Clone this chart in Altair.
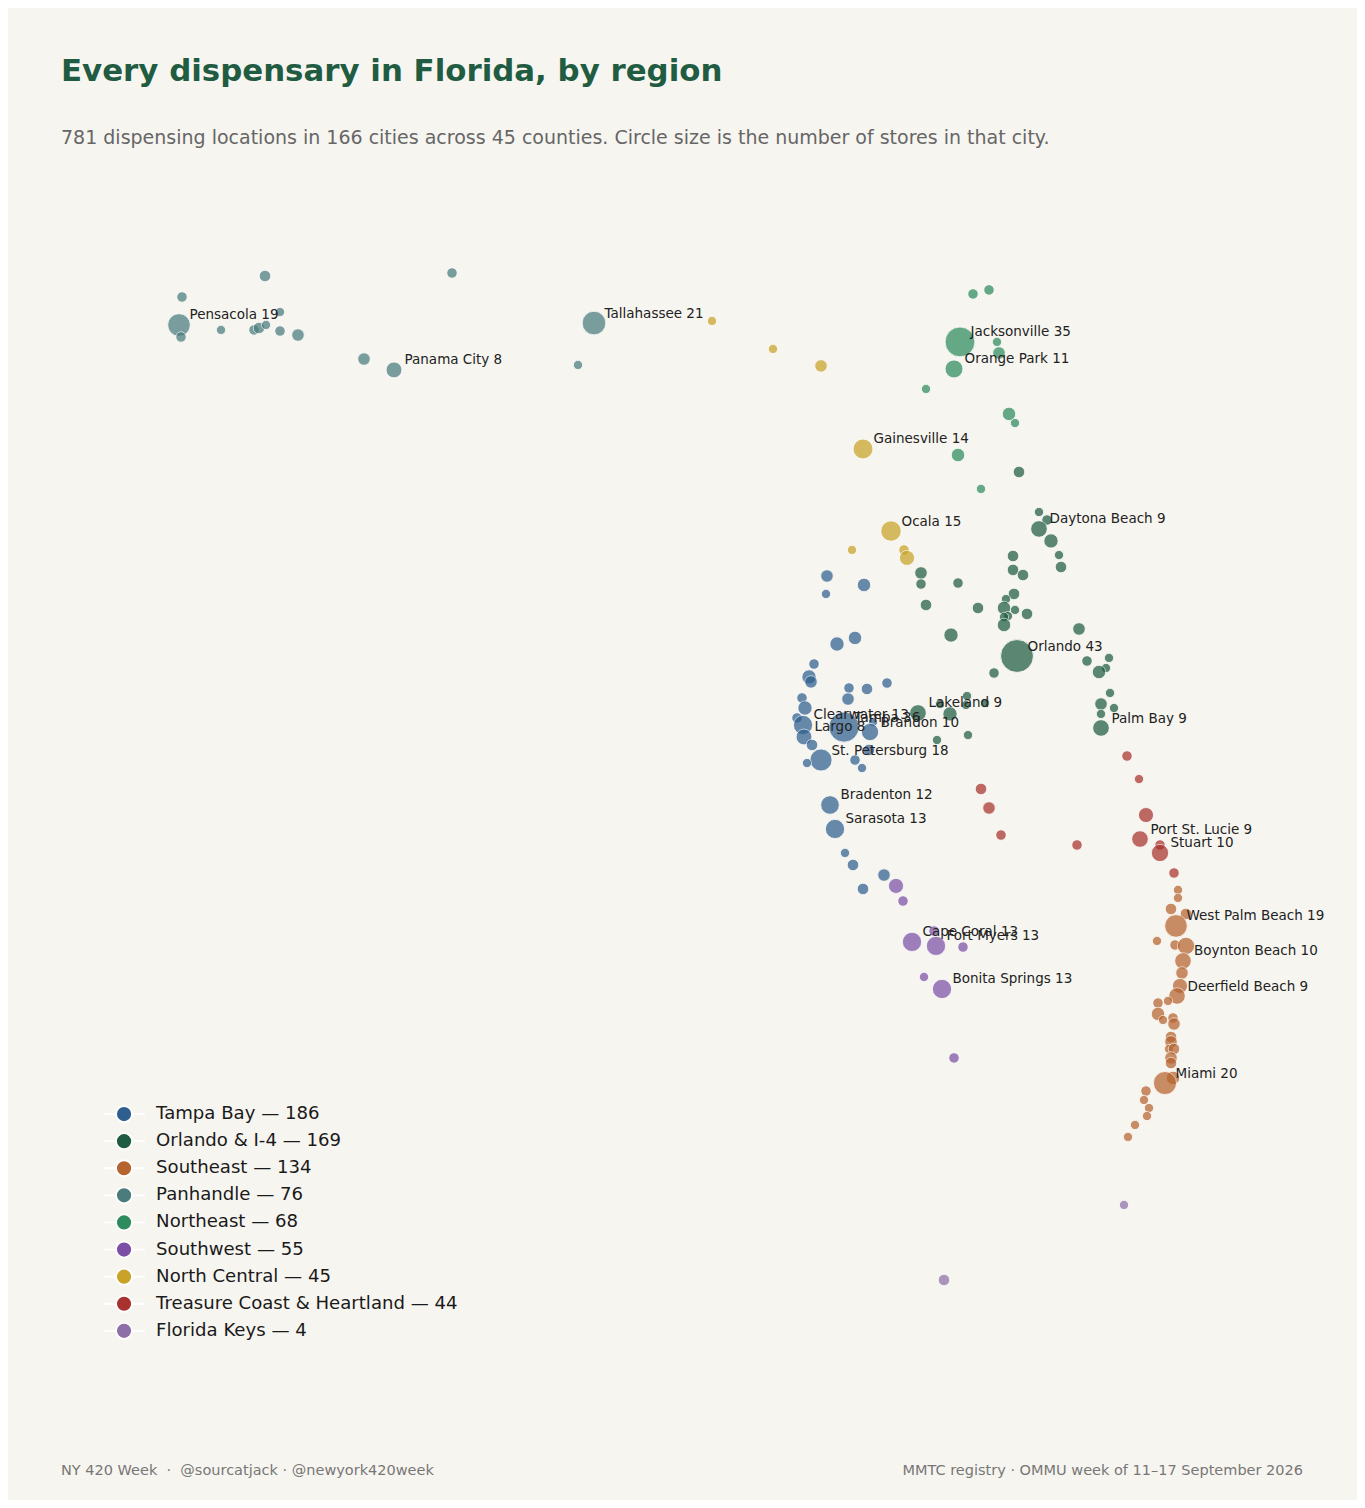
import altair as alt
import pandas as pd

# lon / lat / stores per city
panhandle_lon = [-87.200, -87.186, -87.179, -86.598, -85.289, -86.906, -86.675, -86.640, -86.591, -86.493, -86.493, -86.367, -85.905, -85.695, -84.407, -84.295]
panhandle_lat = [30.439, 30.364, 30.614, 30.745, 30.764, 30.408, 30.408, 30.420, 30.439, 30.520, 30.401, 30.376, 30.226, 30.158, 30.189, 30.451]
panhandle_stores = [19, 2, 2, 3, 2, 1, 2, 3, 1, 1, 2, 4, 4, 8, 1, 21]

north_central_lon = [-83.469, -83.042, -82.706, -82.412, -82.216, -82.489, -82.125, -82.104]
north_central_lat = [30.464, 30.289, 30.183, 29.664, 29.151, 29.033, 29.033, 28.983]
north_central_stores = [1, 1, 4, 14, 15, 1, 2, 7]

northeast_lon = [-81.642, -81.530, -81.733, -81.474, -81.460, -81.775, -81.971, -81.390, -81.348, -81.747, -81.586]
northeast_lat = [30.633, 30.658, 30.333, 30.333, 30.264, 30.164, 30.039, 29.883, 29.826, 29.626, 29.414]
northeast_stores = [2, 2, 35, 1, 4, 11, 1, 5, 1, 5, 1]

orlando_lon = [-81.320, -81.180, -81.124, -81.180, -81.096, -81.040, -81.026, -81.362, -81.362, -81.292, -81.355,
               -81.411, -81.425, -81.348, -81.264, -81.397, -81.425, -81.425, -81.607, -80.900, -82.006, -82.006,
               -81.747, -81.971, -81.796, -81.334, -81.495, -80.844, -80.690, -80.711, -80.760, -80.683, -80.746,
               -80.655, -80.746, -80.746, -81.684, -81.873, -81.691, -81.558, -82.027, -81.803, -81.894, -81.677]
orlando_lat = [29.520, 29.270, 29.220, 29.164, 29.089, 29.001, 28.926, 28.995, 28.908, 28.876, 28.758,
               28.726, 28.670, 28.658, 28.633, 28.620, 28.614, 28.564, 28.670, 28.539, 28.889, 28.820,
               28.826, 28.689, 28.501, 28.370, 28.264, 28.339, 28.358, 28.295, 28.270, 28.139, 28.070,
               28.045, 28.008, 27.920, 28.120, 28.070, 28.064, 28.076, 28.014, 28.008, 27.845, 27.876]
orlando_stores = [3, 1, 2, 9, 6, 1, 3, 3, 3, 3, 3,
                  1, 5, 1, 3, 1, 1, 5, 3, 4, 4, 2,
                  2, 3, 6, 43, 2, 2, 1, 1, 5, 1, 4,
                  1, 1, 9, 1, 1, 1, 1, 9, 6, 1, 1]

tampa_lon = [-82.664, -82.405, -82.671, -82.468, -82.594, -82.755, -82.790, -82.776, -82.510, -82.384, -82.244,
             -82.517, -82.839, -82.818, -82.874, -82.832, -82.545, -82.342, -82.363, -82.825, -82.769, -82.706,
             -82.804, -82.468, -82.419, -82.370, -82.643, -82.608, -82.538, -82.482, -82.265, -82.412]
tampa_lat = [28.870, 28.814, 28.758, 28.483, 28.445, 28.320, 28.239, 28.208, 28.170, 28.164, 28.201,
             28.101, 28.108, 28.045, 27.983, 27.939, 27.926, 27.958, 27.895, 27.864, 27.814, 27.720,
             27.701, 27.720, 27.670, 27.783, 27.439, 27.289, 27.139, 27.064, 27.001, 26.914]
tampa_stores = [4, 5, 1, 5, 6, 2, 6, 4, 2, 3, 2,
                4, 2, 6, 2, 13, 36, 1, 10, 8, 3, 18,
                1, 2, 1, 3, 12, 13, 1, 3, 4, 3]

southwest_lon = [-82.181, -82.132, -81.915, -82.069, -81.901, -81.712, -81.985, -81.859, -81.775]
southwest_lat = [26.933, 26.839, 26.651, 26.583, 26.558, 26.551, 26.364, 26.289, 25.858]
southwest_stores = [7, 2, 2, 13, 13, 2, 1, 13, 2]

keys_lon = [-80.585, -81.845]
keys_lat = [24.939, 24.470]
keys_stores = [1, 3]

treasure_lon = [-80.564, -80.480, -80.431, -80.473, -80.333, -80.333, -80.914, -80.235, -81.586, -81.530, -81.446]
treasure_lat = [27.745, 27.601, 27.376, 27.226, 27.189, 27.139, 27.189, 27.014, 27.539, 27.420, 27.251]
treasure_stores = [2, 1, 7, 9, 2, 10, 2, 2, 3, 4, 2]

southeast_lon = [-80.207, -80.207, -80.256, -80.151, -80.221, -80.354, -80.228, -80.151, -80.172, -80.179, -80.193,
                 -80.214, -80.277, -80.347, -80.347, -80.312, -80.242, -80.235, -80.256, -80.256, -80.270, -80.235,
                 -80.256, -80.256, -80.242, -80.298, -80.431, -80.445, -80.410, -80.424, -80.508, -80.557]
southeast_lat = [26.908, 26.858, 26.789, 26.758, 26.683, 26.589, 26.564, 26.558, 26.464, 26.389, 26.308,
                 26.245, 26.214, 26.201, 26.133, 26.095, 26.108, 26.070, 25.989, 25.958, 25.914, 25.914,
                 25.858, 25.826, 25.733, 25.701, 25.651, 25.595, 25.545, 25.495, 25.439, 25.364]
southeast_stores = [1, 1, 3, 3, 19, 1, 2, 10, 9, 4, 7,
                    9, 1, 2, 5, 1, 2, 4, 3, 4, 1, 3,
                    4, 3, 5, 20, 2, 1, 1, 1, 1, 1]

label_city = ["Pensacola", "Panama City", "Tallahassee", "Jacksonville", "Orange Park", "Gainesville", "Ocala",
              "Daytona Beach", "Orlando", "Lakeland", "Palm Bay", "Clearwater", "Tampa", "Brandon", "Largo",
              "St. Petersburg", "Bradenton", "Sarasota", "Port St. Lucie", "Stuart", "West Palm Beach",
              "Deerfield Beach", "Miami", "Cape Coral", "Fort Myers", "Bonita Springs"]
label_lon = [-87.200, -85.695, -84.295, -81.733, -81.775, -82.412, -82.216,
             -81.180, -81.334, -82.027, -80.746, -82.832, -82.545, -82.363, -82.825,
             -82.706, -82.643, -82.608, -80.473, -80.333, -80.221,
             -80.214, -80.298, -82.069, -81.901, -81.859]
label_lat = [30.439, 30.158, 30.451, 30.333, 30.164, 29.664, 29.151,
             29.164, 28.370, 28.014, 27.920, 27.939, 27.926, 27.895, 27.864,
             27.720, 27.439, 27.289, 27.226, 27.139, 26.683,
             26.245, 25.701, 26.583, 26.558, 26.289]
label_stores = [19, 8, 21, 35, 11, 14, 15, 9, 43, 9, 9, 13, 36, 10, 8, 18, 12, 13, 9, 10, 19, 9, 20, 13, 13, 13]

# this one sits below and to the right of its circle in the reference
boynton_city = ["Boynton Beach"]
boynton_lon = [-80.151]
boynton_lat = [26.558]
boynton_stores = [10]

legend_names = ["Tampa Bay — 186", "Orlando & I-4 — 169", "Southeast — 134", "Panhandle — 76", "Northeast — 68",
                "Southwest — 55", "North Central — 45", "Treasure Coast & Heartland — 44", "Florida Keys — 4"]
legend_colors = ["#2f5f8f", "#1f5c42", "#b5642f", "#4a7c7e", "#2e8b5e", "#7b4fa6", "#c9a227", "#a8322d", "#8e6fa8"]

BG = "#f7f5f0"
FONT = "DejaVu Sans"

rows = []
regions = [
    (legend_names[3], panhandle_lon, panhandle_lat, panhandle_stores),
    (legend_names[6], north_central_lon, north_central_lat, north_central_stores),
    (legend_names[4], northeast_lon, northeast_lat, northeast_stores),
    (legend_names[1], orlando_lon, orlando_lat, orlando_stores),
    (legend_names[0], tampa_lon, tampa_lat, tampa_stores),
    (legend_names[5], southwest_lon, southwest_lat, southwest_stores),
    (legend_names[8], keys_lon, keys_lat, keys_stores),
    (legend_names[7], treasure_lon, treasure_lat, treasure_stores),
    (legend_names[2], southeast_lon, southeast_lat, southeast_stores),
]
for name, lons, lats, stores in regions:
    for lon, lat, n in zip(lons, lats, stores):
        rows.append({"region": name, "lon": lon, "lat": lat, "stores": n})
df = pd.DataFrame(rows)


def label_table(cities, lons, lats, stores):
    out = pd.DataFrame({"city": cities, "lon": lons, "lat": lats, "stores": stores})
    out["label"] = out["city"] + " " + out["stores"].astype(str)
    return out


x_scale = alt.Scale(domain=[-88.397, -78.954], nice=False, zero=False)
y_scale = alt.Scale(domain=[23.095, 32.42], nice=False, zero=False)

# white dash through the marker, like the legend handles in the reference
handle = "M-2.6,0L-1,0M1,0L2.6,0M-1,0A1,1,0,1,1,1,0A1,1,0,1,1,-1,0Z"

points = alt.Chart(df).mark_circle(opacity=0.72, stroke="white", strokeWidth=0.8).encode(
    x=alt.X("lon:Q", scale=x_scale, axis=None),
    y=alt.Y("lat:Q", scale=y_scale, axis=None),
    size=alt.Size("stores:Q", scale=alt.Scale(domain=[1, 43], range=[85, 1080]), legend=None),
    color=alt.Color(
        "region:N",
        scale=alt.Scale(domain=legend_names, range=legend_colors),
        legend=alt.Legend(
            title=None,
            orient="none",
            legendX=107,
            legendY=1097,
            symbolType=handle,
            symbolSize=256,
            symbolOpacity=1,
            symbolStrokeColor="white",
            symbolStrokeWidth=1.8,
            labelFont=FONT,
            labelFontSize=18.1,
            labelColor="#1a1a1a",
            labelOffset=23,
            labelLimit=500,
            rowPadding=3.1,
        ),
    ),
)


def label_layer(table, dx, dy):
    return alt.Chart(table).mark_text(
        align="left", baseline="middle", dx=dx, dy=dy, font=FONT, fontSize=13.5, color="#222222"
    ).encode(
        x=alt.X("lon:Q", scale=x_scale, axis=None),
        y=alt.Y("lat:Q", scale=y_scale, axis=None),
        text="label:N",
    )


labels = label_layer(label_table(label_city, label_lon, label_lat, label_stores), 10.5, -9.5)
labels_low = label_layer(label_table(boynton_city, boynton_lon, boynton_lat, boynton_stores), 8, 5)


def page_text(text, x, y, size, color, weight="normal", align="left"):
    return alt.Chart(pd.DataFrame({"t": [text]})).mark_text(
        align=align, baseline="middle", font=FONT, fontSize=size, color=color, fontWeight=weight
    ).encode(x=alt.value(x), y=alt.value(y), text="t:N")


title = page_text("Every dispensary in Florida, by region", 53, 64, 30.85, "#1f5c42", weight="bold")
subtitle = page_text(
    "781 dispensing locations in 166 cities across 45 counties. Circle size is the number of stores in that city.",
    53, 130, 19, "#666666",
)
foot_left = page_text("NY 420 Week \u00a0·\u00a0 @sourcatjack · @newyork420week", 53, 1463, 14.5, "#777777")
foot_right = page_text("MMTC registry · OMMU week of 11–17 September 2026", 1295, 1463, 14.5, "#777777", align="right")

chart = alt.layer(points, labels, labels_low, title, subtitle, foot_left, foot_right).properties(
    width=1349,
    height=1492,
    background=BG,
    padding=0,
    autosize=alt.AutoSizeParams(type="fit", contains="padding"),
).configure_view(stroke=None)

chart.save("out.html", embed_options={"renderer": "svg", "actions": False})
